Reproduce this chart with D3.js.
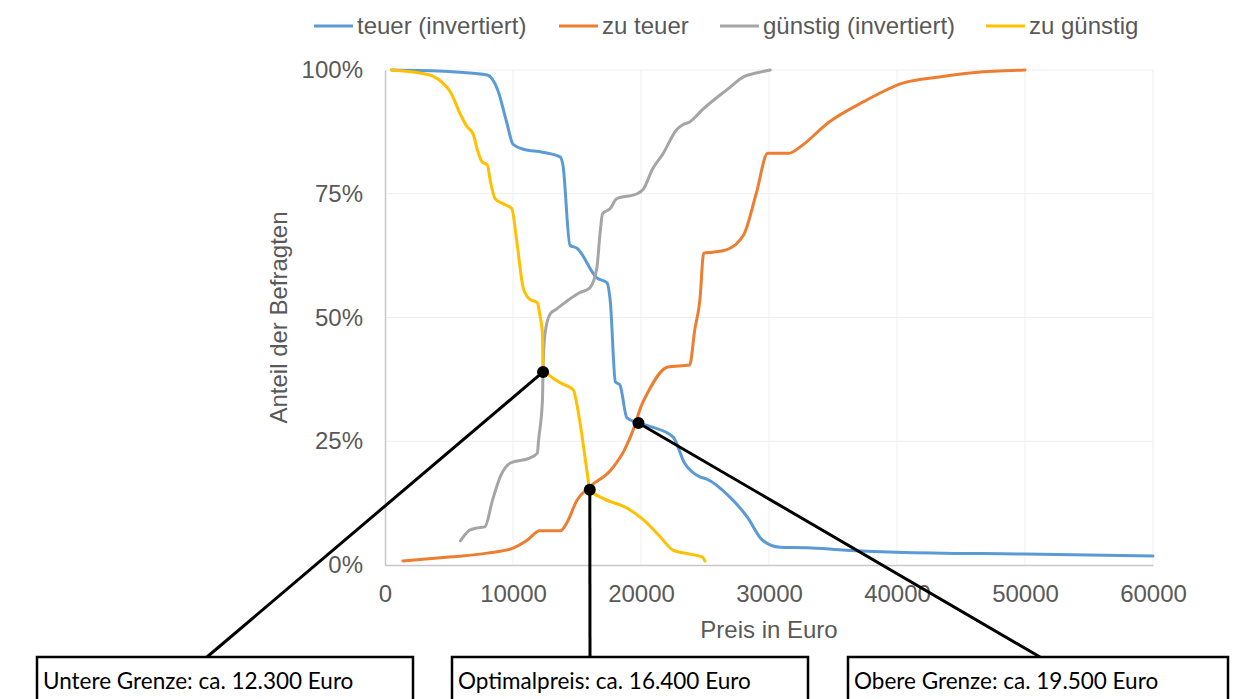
<!DOCTYPE html>
<html>
<head>
<meta charset="utf-8">
<script src="https://cdn.jsdelivr.net/npm/d3@7.9.0/dist/d3.min.js"></script>
<style>
  body { margin: 0; background: #fff; }
  svg { display: block; }
</style>
</head>
<body>
<svg id="chart" width="1249" height="699"></svg>
<script>
// Van-Westendorp price sensitivity: share of respondents per price (Euro)

const seriesNames = ['teuer (invertiert)', 'zu teuer', 'günstig (invertiert)', 'zu günstig'];
const seriesColors = ['#5b9bd5', '#ed7d31', '#a5a5a5', '#ffc000'];

const teuerPrice = [500, 5000, 8000, 8800, 9500, 10000, 10800, 12300, 13700, 13900, 14450, 15000, 16550, 17350, 17600, 18000, 18350, 18900, 19800, 20700, 22500, 23400, 24600, 25100, 26950, 28300, 29500, 30850, 33000, 36000, 40000, 50000, 60000];
const teuerShare = [100, 99.7, 99, 96, 89.5, 85, 84, 83.4, 82.4, 80.8, 64.6, 64, 58, 57, 53.3, 37, 36.4, 29.7, 28.7, 28, 25.9, 20.6, 17.8, 17.4, 13.7, 9.7, 5, 3.6, 3.5, 3, 2.6, 2.2, 1.8];

const zuTeuerPrice = [1400, 5000, 8000, 10000, 11100, 12100, 13700, 14200, 15000, 16000, 17650, 18700, 19450, 20000, 20500, 22100, 23800, 24200, 24600, 24900, 25600, 26600, 28000, 29000, 29900, 31600, 32400, 34700, 37400, 40500, 43300, 46100, 50000];
const zuTeuerShare = [0.8, 1.6, 2.4, 3.4, 5, 6.9, 6.9, 8.5, 13.1, 15.8, 19.2, 23.2, 27.7, 32, 34.7, 40, 40.4, 47.5, 53.5, 63, 63.2, 63.6, 66.6, 75, 83.2, 83.2, 84.4, 89.5, 93.6, 97.4, 98.6, 99.5, 100];

const guenstigPrice = [5900, 6600, 7200, 7800, 8400, 9000, 9800, 11300, 11900, 12000, 12300, 12350, 12500, 12900, 13400, 14200, 15200, 16000, 16550, 16800, 17000, 17600, 18100, 19700, 20200, 20900, 21700, 22800, 23300, 23800, 24800, 26900, 28000, 29000, 30100];
const guenstigShare = [4.9, 7, 7.5, 7.7, 13.1, 17.8, 20.6, 21.6, 22.6, 25.3, 33.3, 40, 46.7, 50.7, 51.7, 53.3, 55, 56, 60, 67, 71, 72, 74, 75, 76, 80, 83, 88, 89, 89.5, 92, 96.4, 98.6, 99.4, 100];

const zuGuenstigPrice = [500, 3500, 4500, 5100, 5900, 6400, 6900, 7200, 7600, 8000, 8200, 8600, 9200, 9900, 10300, 10800, 11300, 11900, 12100, 12300, 12350, 13700, 14700, 15200, 15800, 16000, 17000, 18900, 20200, 21500, 22500, 23800, 24800, 25000];
const zuGuenstigShare = [100, 99, 97.4, 95.6, 91, 88.6, 87, 84, 81.4, 80.8, 78, 74, 73, 72, 65.3, 56, 53.7, 53, 50.5, 46.8, 40, 36.8, 35.4, 29.3, 18.6, 15.2, 13.5, 11.5, 9.1, 5.7, 3, 2.2, 1.6, 0.8];

const xTicks = [0, 10000, 20000, 30000, 40000, 50000, 60000];
const yTicks = [0, 25, 50, 75, 100];
const yTickLabels = ['0%', '25%', '50%', '75%', '100%'];

// marked intersections (price, share) and their callout texts
const markPrice = [12350, 16000, 19800];
const markShare = [39, 15.2, 28.7];
const markLabels = ['Untere Grenze: ca. 12.300 Euro', 'Optimalpreis: ca. 16.400 Euro', 'Obere Grenze: ca. 19.500 Euro'];

const svg = d3.select('#chart');
const textColor = '#595959';
const font = '"Liberation Sans", Arial, sans-serif';

const x = d3.scaleLinear().domain([0, 60000]).range([385, 1153]);
const y = d3.scaleLinear().domain([0, 100]).range([565, 70]);

// gridlines
svg.append('g')
  .selectAll('line')
  .data(xTicks.slice(1))
  .join('line')
  .attr('x1', d => x(d)).attr('x2', d => x(d))
  .attr('y1', y(100)).attr('y2', y(0))
  .attr('stroke', '#eeeeee').attr('stroke-width', 1);

svg.append('g')
  .selectAll('line')
  .data(yTicks.slice(1))
  .join('line')
  .attr('x1', x(0)).attr('x2', x(60000))
  .attr('y1', d => y(d)).attr('y2', d => y(d))
  .attr('stroke', '#eeeeee').attr('stroke-width', 1);

// axes
const xAxis = svg.append('g')
  .attr('transform', `translate(0,${y(0)})`)
  .call(d3.axisBottom(x).tickValues(xTicks).tickSize(0).tickPadding(20).tickFormat(d3.format('d')));
const yAxis = svg.append('g')
  .attr('transform', `translate(${x(0)},0)`)
  .call(d3.axisLeft(y).tickValues(yTicks).tickSize(0).tickPadding(22).tickFormat((d, i) => yTickLabels[i]));

[xAxis, yAxis].forEach(a => {
  a.attr('font-family', null);
  a.select('.domain').attr('stroke', '#c8c8c8').attr('stroke-width', 1.5);
  a.selectAll('text').attr('fill', textColor).style('font-family', font).style('font-size', '24px');
});

svg.append('text')
  .attr('x', (x(0) + x(60000)) / 2).attr('y', 638)
  .attr('text-anchor', 'middle')
  .attr('fill', textColor)
  .style('font-family', font).style('font-size', '24px')
  .text('Preis in Euro');

svg.append('text')
  .attr('transform', `translate(287,${(y(0) + y(100)) / 2}) rotate(-90)`)
  .attr('text-anchor', 'middle')
  .attr('fill', textColor)
  .style('font-family', font).style('font-size', '24px')
  .text('Anteil der Befragten');

// lines
const series = [
  { prices: teuerPrice, shares: teuerShare },
  { prices: zuTeuerPrice, shares: zuTeuerShare },
  { prices: guenstigPrice, shares: guenstigShare },
  { prices: zuGuenstigPrice, shares: zuGuenstigShare },
];

const line = d3.line()
  .x(d => x(d[0]))
  .y(d => y(d[1]))
  .curve(d3.curveMonotoneX);

series.forEach((s, i) => {
  svg.append('path')
    .datum(s.prices.map((p, j) => [p, s.shares[j]]))
    .attr('d', line)
    .attr('fill', 'none')
    .attr('stroke', seriesColors[i])
    .attr('stroke-width', 3)
    .attr('stroke-linejoin', 'round')
    .attr('stroke-linecap', 'round');
});

// legend
const legendX = [314, 559, 720, 986];
const legend = svg.append('g');
seriesNames.forEach((name, i) => {
  legend.append('line')
    .attr('x1', legendX[i]).attr('x2', legendX[i] + 39)
    .attr('y1', 26).attr('y2', 26)
    .attr('stroke', seriesColors[i]).attr('stroke-width', 3);
  legend.append('text')
    .attr('x', legendX[i] + 43).attr('y', 34)
    .attr('fill', textColor)
    .style('font-family', font).style('font-size', '24px')
    .text(name);
});

// callout boxes
const boxLeft = [37, 452, 848];
const boxRight = [413, 808, 1228];
const boxTop = 657;
const anchorX = [207, 590, 1040];

markPrice.forEach((p, i) => {
  svg.append('line')
    .attr('x1', x(p)).attr('y1', y(markShare[i]))
    .attr('x2', anchorX[i]).attr('y2', boxTop)
    .attr('stroke', '#000').attr('stroke-width', 3);
});

markPrice.forEach((p, i) => {
  svg.append('circle')
    .attr('cx', x(p)).attr('cy', y(markShare[i]))
    .attr('r', 6).attr('fill', '#000');
});

markLabels.forEach((t, i) => {
  svg.append('rect')
    .attr('x', boxLeft[i]).attr('y', boxTop)
    .attr('width', boxRight[i] - boxLeft[i]).attr('height', 60)
    .attr('fill', '#fff').attr('stroke', '#000').attr('stroke-width', 2.5);
  svg.append('text')
    .attr('x', boxLeft[i] + 6).attr('y', 689)
    .attr('fill', '#000')
    .style('font-family', 'Lato, "Open Sans", sans-serif').style('font-size', '22.5px')
    .text(t);
});
</script>
</body>
</html>
